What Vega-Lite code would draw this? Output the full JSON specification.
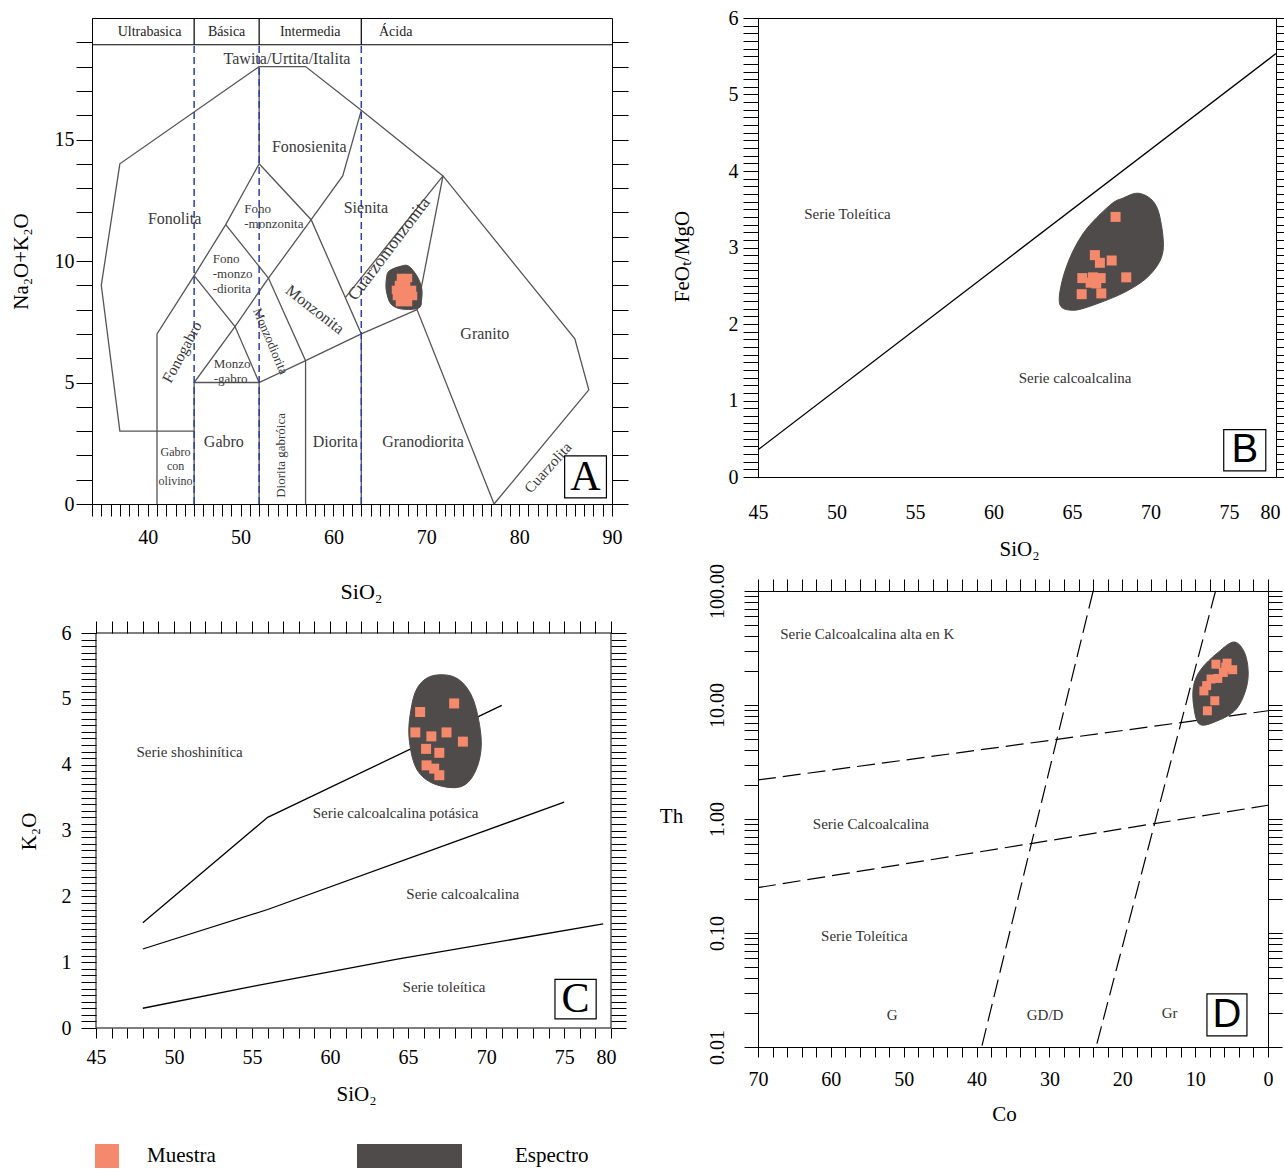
{
"$schema": "https://vega.github.io/schema/vega-lite/v6.json",
"background": "white",
"padding": {"left": 9, "top": 7, "right": 2, "bottom": 2},
"columns": 2,
"bounds": "flush",
"spacing": {"row": 87, "column": 146},
"config": {
  "font": "Liberation Serif",
  "view": {"stroke": "black", "strokeWidth": 1},
  "axis": {"grid": false, "labelFont": "Liberation Serif", "titleFont": "Liberation Serif", "labelFontSize": 20, "titleFontSize": 21, "titleFontWeight": "normal", "labelColor": "black", "titleColor": "black", "tickColor": "black", "domainColor": "black", "tickWidth": 1, "domainWidth": 1, "labelOverlap": false, "labelFlush": false, "labelBound": false, "labelLimit": 0},
  "legend": {"padding": 0},
  "text": {"font": "Liberation Serif"}
},
"datasets": {
  "tasL": [
    {"s":1,"i":0,"x":45,"y":3},{"s":1,"i":1,"x":37,"y":3},{"s":1,"i":2,"x":35,"y":9},{"s":1,"i":3,"x":37,"y":14},{"s":1,"i":4,"x":52,"y":18},{"s":1,"i":5,"x":57,"y":18},{"s":1,"i":6,"x":63,"y":16.2},{"s":1,"i":7,"x":71.8,"y":13.5},{"s":1,"i":8,"x":86,"y":6.8},{"s":1,"i":9,"x":87.5,"y":4.7},{"s":1,"i":10,"x":77.3,"y":0},
    {"s":2,"i":0,"x":41,"y":0},{"s":2,"i":1,"x":41,"y":7},{"s":2,"i":2,"x":45,"y":9.4},{"s":2,"i":3,"x":48.4,"y":11.5},{"s":2,"i":4,"x":52,"y":14},{"s":2,"i":5,"x":52,"y":18},
    {"s":3,"i":0,"x":52,"y":14},{"s":3,"i":1,"x":57.6,"y":11.7},{"s":3,"i":2,"x":63,"y":7},{"s":3,"i":3,"x":63,"y":0},
    {"s":4,"i":0,"x":45,"y":9.4},{"s":4,"i":1,"x":49.4,"y":7.3},{"s":4,"i":2,"x":52,"y":5},{"s":4,"i":3,"x":52,"y":0},
    {"s":5,"i":0,"x":45,"y":0},{"s":5,"i":1,"x":45,"y":5},{"s":5,"i":2,"x":49.4,"y":7.3},{"s":5,"i":3,"x":53,"y":9.3},{"s":5,"i":4,"x":57.6,"y":11.7},{"s":5,"i":5,"x":61,"y":13.5},{"s":5,"i":6,"x":63,"y":16.2},
    {"s":6,"i":0,"x":48.4,"y":11.5},{"s":6,"i":1,"x":53,"y":9.3},{"s":6,"i":2,"x":57,"y":5.9},{"s":6,"i":3,"x":57,"y":0},
    {"s":7,"i":0,"x":45,"y":5},{"s":7,"i":1,"x":52,"y":5},{"s":7,"i":2,"x":57,"y":5.9},{"s":7,"i":3,"x":63,"y":7},{"s":7,"i":4,"x":69,"y":8},{"s":7,"i":5,"x":77.3,"y":0},
    {"s":8,"i":0,"x":69,"y":8},{"s":8,"i":1,"x":71.8,"y":13.5},
    {"s":9,"i":0,"x":61.3,"y":8.5},{"s":9,"i":1,"x":71.8,"y":13.5}
  ],
  "tasE": [
    {"i":0,"x":66.0,"y":9.59},{"i":1,"x":67.3,"y":9.79},{"i":2,"x":68.1,"y":9.79},{"i":3,"x":69.0,"y":9.38},{"i":4,"x":69.5,"y":8.89},{"i":5,"x":69.5,"y":8.44},{"i":6,"x":69.2,"y":8.07},{"i":7,"x":67.4,"y":8.02},{"i":8,"x":66.2,"y":8.23},{"i":9,"x":65.7,"y":8.77},{"i":10,"x":65.7,"y":9.26}
  ],
  "tasP": [
    {"x":67.28,"y":9.30,"tipo":"Muestra"},{"x":68.03,"y":9.30,"tipo":"Muestra"},{"x":67.06,"y":9.01,"tipo":"Muestra"},{"x":67.82,"y":9.01,"tipo":"Muestra"},{"x":66.74,"y":8.81,"tipo":"Muestra"},{"x":67.60,"y":8.81,"tipo":"Muestra"},{"x":68.46,"y":8.81,"tipo":"Muestra"},{"x":66.84,"y":8.56,"tipo":"Muestra"},{"x":67.71,"y":8.56,"tipo":"Muestra"},{"x":68.57,"y":8.56,"tipo":"Muestra"},{"x":67.17,"y":8.31,"tipo":"Muestra"},{"x":68.03,"y":8.31,"tipo":"Muestra"}
  ],
  "feoE": [
    {"i":0,"x":64.2,"y":2.28},{"i":1,"x":65.0,"y":2.18},{"i":2,"x":66.4,"y":2.25},{"i":3,"x":68.5,"y":2.43},{"i":4,"x":70.0,"y":2.65},{"i":5,"x":70.8,"y":2.95},{"i":6,"x":70.6,"y":3.4},{"i":7,"x":70.1,"y":3.62},{"i":8,"x":69.2,"y":3.71},{"i":9,"x":68.3,"y":3.65},{"i":10,"x":67.4,"y":3.55},{"i":11,"x":65.7,"y":3.18},{"i":12,"x":64.6,"y":2.72}
  ],
  "feoP": [
    {"x":67.78,"y":3.40},{"x":66.46,"y":2.90},{"x":66.78,"y":2.80},{"x":67.53,"y":2.83},{"x":68.46,"y":2.61},{"x":65.66,"y":2.60},{"x":66.34,"y":2.61},{"x":66.83,"y":2.60},{"x":66.55,"y":2.53},{"x":65.62,"y":2.39},{"x":66.87,"y":2.40},{"x":66.19,"y":2.54}
  ],
  "kL": [
    {"s":1,"i":0,"x":48,"y":1.6},{"s":1,"i":1,"x":56,"y":3.2},{"s":1,"i":2,"x":71,"y":4.9},
    {"s":2,"i":0,"x":48,"y":1.2},{"s":2,"i":1,"x":56,"y":1.8},{"s":2,"i":2,"x":75,"y":3.43},
    {"s":3,"i":0,"x":48,"y":0.3},{"s":3,"i":1,"x":55.2,"y":0.64},{"s":3,"i":2,"x":64.4,"y":1.05},{"s":3,"i":3,"x":77.5,"y":1.58}
  ],
  "kE": [
    {"i":0,"x":66.56,"y":5.35},{"i":1,"x":68.06,"y":5.32},{"i":2,"x":69.12,"y":5.02},{"i":3,"x":69.66,"y":4.46},{"i":4,"x":69.55,"y":4.06},{"i":5,"x":68.91,"y":3.75},{"i":6,"x":67.95,"y":3.65},{"i":7,"x":66.46,"y":3.73},{"i":8,"x":65.49,"y":3.96},{"i":9,"x":65.06,"y":4.41},{"i":10,"x":65.17,"y":4.82},{"i":11,"x":65.6,"y":5.17}
  ],
  "kP": [
    {"x":67.95,"y":4.93},{"x":65.77,"y":4.80},{"x":65.46,"y":4.49},{"x":66.49,"y":4.43},{"x":67.46,"y":4.49},{"x":68.51,"y":4.35},{"x":66.15,"y":4.24},{"x":67.0,"y":4.18},{"x":66.18,"y":3.99},{"x":66.67,"y":3.94},{"x":67.0,"y":3.84}
  ],
  "thL": [
    {"s":1,"i":0,"co":70,"th":2.2},{"s":1,"i":1,"co":0,"th":8.9},
    {"s":2,"i":0,"co":70,"th":0.25},{"s":2,"i":1,"co":0,"th":1.32},
    {"s":3,"i":0,"co":24,"th":100},{"s":3,"i":1,"co":39.3,"th":0.01},
    {"s":4,"i":0,"co":7.2,"th":100},{"s":4,"i":1,"co":23.6,"th":0.01}
  ],
  "thE": [
    {"i":0,"co":4.59,"th":35.7},{"i":1,"co":3.06,"th":27.0},{"i":2,"co":2.81,"th":15.8},{"i":3,"co":4.34,"th":9.23},{"i":4,"co":7.40,"th":7.07},{"i":5,"co":9.45,"th":6.83},{"i":6,"co":10.21,"th":9.87},{"i":7,"co":10.21,"th":14.8},{"i":8,"co":9.19,"th":20.6},{"i":9,"co":6.89,"th":28.8}
  ],
  "thP": [
    {"co":7.15,"th":22.8},{"co":5.62,"th":23.3},{"co":4.85,"th":20.4},{"co":6.13,"th":19.3},{"co":6.89,"th":17.1},{"co":7.81,"th":16.9},{"co":8.42,"th":14.8},{"co":8.8,"th":13.3},{"co":7.30,"th":10.9},{"co":8.32,"th":8.9},{"co":5.8,"th":21.5}
  ]
},
"concat": [
{
  "width": 520, "height": 486,
  "resolve": {"axis": {"x": "independent", "y": "independent"}},
  "layer": [
    {
      "data": {"name": "tasL"},
      "mark": {"type": "line", "color": "#555555", "strokeWidth": 1.3},
      "encoding": {
        "x": {"field": "x", "type": "quantitative", "scale": {"domain": [34, 90], "nice": false, "zero": false},
          "axis": {"orient": "bottom", "values": [34,35,36,37,38,39,40,41,42,43,44,45,46,47,48,49,50,51,52,53,54,55,56,57,58,59,60,61,62,63,64,65,66,67,68,69,70,71,72,73,74,75,76,77,78,79,80,81,82,83,84,85,86,87,88,89,90],
            "title": "SiO₂", "titleFontSize": 22, "titleX": 269, "titleY": 87, "titleBaseline": "middle", "titleAlign": "center",
            "tickSize": 12, "labelPadding": 11, "labelExpr": "datum.value % 10 === 0 ? '' + datum.value : ''",
            "encode": {"ticks": {"update": {"y2": {"signal": "datum.value % 10 === 0 ? 12 : -6"}}}}}},
        "y": {"field": "y", "type": "quantitative", "scale": {"domain": [0, 20], "nice": false, "zero": false},
          "axis": {"orient": "left", "values": [0,1,2,3,4,5,6,7,8,9,10,11,12,13,14,15,16,17,18,19],
            "title": "Na₂O+K₂O", "titleX": -71, "titleY": 243, "titleAngle": 270, "titleBaseline": "middle", "titleAlign": "center",
            "tickSize": 16, "labelPadding": 2, "labelExpr": "datum.value % 5 === 0 ? '' + datum.value : ''",
            "encode": {"ticks": {"update": {"x2": {"signal": "datum.value % 5 === 0 ? -16 : -8"}}}}}},
        "detail": {"field": "s", "type": "nominal"},
        "order": {"field": "i", "type": "quantitative"}
      }
    },
    {
      "data": {"values": [{"x":34,"x2":90,"y":18.9,"y2":18.9},{"x":45,"x2":45,"y":18.9,"y2":20},{"x":52,"x2":52,"y":18.9,"y2":20},{"x":63,"x2":63,"y":18.9,"y2":20}]},
      "mark": {"type": "rule", "color": "black", "strokeWidth": 1.2},
      "encoding": {
        "x": {"field": "x", "type": "quantitative", "axis": null}, "x2": {"field": "x2"},
        "y": {"field": "y", "type": "quantitative", "axis": null}, "y2": {"field": "y2"}
      }
    },
    {
      "data": {"values": [{"x":45,"y":0,"y2":18.9},{"x":52,"y":0,"y2":18.9},{"x":63,"y":0,"y2":18.9}]},
      "mark": {"type": "rule", "color": "#2B3FA8", "strokeWidth": 1.5, "strokeDash": [7, 4]},
      "encoding": {
        "x": {"field": "x", "type": "quantitative", "axis": null},
        "y": {"field": "y", "type": "quantitative", "axis": null}, "y2": {"field": "y2"}
      }
    },
    {
      "data": {"name": "tasE"},
      "mark": {"type": "line", "interpolate": "cardinal-closed", "filled": true, "fill": "#4F4B4B", "stroke": "#4F4B4B", "strokeWidth": 1},
      "encoding": {
        "x": {"field": "x", "type": "quantitative", "axis": null},
        "y": {"field": "y", "type": "quantitative",
          "axis": {"orient": "right", "values": [0,1,2,3,4,5,6,7,8,9,10,11,12,13,14,15,16,17,18,19], "title": null, "labels": false, "domain": false, "tickSize": 16,
            "encode": {"ticks": {"update": {"x2": {"signal": "datum.value % 5 === 0 ? -16 : -9"}}}}}},
        "order": {"field": "i", "type": "quantitative"}
      }
    },
    {
      "data": {"name": "tasP"},
      "mark": {"type": "square", "size": 72, "opacity": 1},
      "encoding": {
        "x": {"field": "x", "type": "quantitative", "axis": null},
        "y": {"field": "y", "type": "quantitative", "axis": null},
        "color": {"field": "tipo", "type": "nominal",
          "scale": {"domain": ["Muestra", "Espectro"], "range": ["#F4896B", "#4F4B4B"]},
          "legend": {"orient": "none", "legendX": 3, "legendY": 1126, "direction": "horizontal", "title": null,
            "symbolType": "square", "symbolSize": 576, "symbolStrokeWidth": 0, "symbolOpacity": 1,
            "labelFont": "Liberation Serif", "labelFontSize": 21, "labelColor": "black", "labelOffset": 28, "columnPadding": 141, "labelLimit": 0,
            "encode": {
              "symbols": {"update": {"shape": {"signal": "datum.value === 'Espectro' ? 'M-1,-1H7.75V1H-1Z' : 'square'"}}},
              "labels": {"update": {"dx": {"signal": "datum.value === 'Espectro' ? 106 : 0"}}}
            }}}
      }
    },
    {
      "data": {"values": [{"t":"Ultrabasica","x":40.2,"y":19.44},{"t":"Básica","x":48.5,"y":19.44},{"t":"Intermedia","x":57.5,"y":19.44},{"t":"Ácida","x":66.7,"y":19.44}]},
      "mark": {"type": "text", "font": "Liberation Serif", "fontSize": 14, "color": "#222222", "baseline": "middle", "align": "center"},
      "encoding": {
        "x": {"field": "x", "type": "quantitative", "axis": null},
        "y": {"field": "y", "type": "quantitative", "axis": null},
        "text": {"field": "t"}
      }
    },
    {
      "data": {"values": [{"t":"Tawita/Urtita/Italita","x":55.0,"y":18.33},{"t":"Fonolita","x":42.9,"y":11.73},{"t":"Sienita","x":63.5,"y":12.18},{"t":"Fonosienita","x":57.4,"y":14.69},{"t":"Granito","x":76.3,"y":7.0},{"t":"Gabro","x":48.2,"y":2.55},{"t":"Diorita","x":60.2,"y":2.55},{"t":"Granodiorita","x":69.65,"y":2.55}]},
      "mark": {"type": "text", "font": "Liberation Serif", "fontSize": 16, "color": "#3a3a3a", "baseline": "middle", "align": "center"},
      "encoding": {
        "x": {"field": "x", "type": "quantitative", "axis": null},
        "y": {"field": "y", "type": "quantitative", "axis": null},
        "text": {"field": "t"}
      }
    },
    {
      "data": {"values": [{"t":"Fono\n-monzonita","x":50.4,"y":12.39},{"t":"Fono\n-monzo\n-diorita","x":47.0,"y":10.33},{"t":"Monzo\n-gabro","x":47.1,"y":6.0}]},
      "mark": {"type": "text", "font": "Liberation Serif", "fontSize": 13, "color": "#3a3a3a", "baseline": "top", "align": "left", "lineBreak": "\n", "lineHeight": 15},
      "encoding": {
        "x": {"field": "x", "type": "quantitative", "axis": null},
        "y": {"field": "y", "type": "quantitative", "axis": null},
        "text": {"field": "t"}
      }
    },
    {
      "data": {"values": [{"t":"Gabro\ncon\nolivino","x":43.0,"y":2.35}]},
      "mark": {"type": "text", "font": "Liberation Serif", "fontSize": 12, "color": "#3a3a3a", "baseline": "top", "align": "center", "lineBreak": "\n", "lineHeight": 14.5},
      "encoding": {
        "x": {"field": "x", "type": "quantitative", "axis": null},
        "y": {"field": "y", "type": "quantitative", "axis": null},
        "text": {"field": "t"}
      }
    },
    {
      "data": {"values": [{"t":"Monzonita","x":58.0,"y":8.0}]},
      "mark": {"type": "text", "font": "Liberation Serif", "fontSize": 16, "color": "#3a3a3a", "baseline": "middle", "align": "center", "angle": 38},
      "encoding": {"x": {"field": "x", "type": "quantitative", "axis": null}, "y": {"field": "y", "type": "quantitative", "axis": null}, "text": {"field": "t"}}
    },
    {
      "data": {"values": [{"t":"Cuarzomonzonita","x":66.0,"y":10.5}]},
      "mark": {"type": "text", "font": "Liberation Serif", "fontSize": 17.5, "color": "#3a3a3a", "baseline": "middle", "align": "center", "angle": 307},
      "encoding": {"x": {"field": "x", "type": "quantitative", "axis": null}, "y": {"field": "y", "type": "quantitative", "axis": null}, "text": {"field": "t"}}
    },
    {
      "data": {"values": [{"t":"Fonogabro","x":43.7,"y":6.25}]},
      "mark": {"type": "text", "font": "Liberation Serif", "fontSize": 15.5, "color": "#3a3a3a", "baseline": "middle", "align": "center", "angle": 298},
      "encoding": {"x": {"field": "x", "type": "quantitative", "axis": null}, "y": {"field": "y", "type": "quantitative", "axis": null}, "text": {"field": "t"}}
    },
    {
      "data": {"values": [{"t":"Monzodiorita","x":53.2,"y":6.7}]},
      "mark": {"type": "text", "font": "Liberation Serif", "fontSize": 13, "color": "#3a3a3a", "baseline": "middle", "align": "center", "angle": 67},
      "encoding": {"x": {"field": "x", "type": "quantitative", "axis": null}, "y": {"field": "y", "type": "quantitative", "axis": null}, "text": {"field": "t"}}
    },
    {
      "data": {"values": [{"t":"Diorita gabróica","x":54.3,"y":2.0}]},
      "mark": {"type": "text", "font": "Liberation Serif", "fontSize": 13, "color": "#3a3a3a", "baseline": "middle", "align": "center", "angle": 270},
      "encoding": {"x": {"field": "x", "type": "quantitative", "axis": null}, "y": {"field": "y", "type": "quantitative", "axis": null}, "text": {"field": "t"}}
    },
    {
      "data": {"values": [{"t":"Cuarzolita","x":83.1,"y":1.5}]},
      "mark": {"type": "text", "font": "Liberation Serif", "fontSize": 15, "color": "#3a3a3a", "baseline": "middle", "align": "center", "angle": 312},
      "encoding": {"x": {"field": "x", "type": "quantitative", "axis": null}, "y": {"field": "y", "type": "quantitative", "axis": null}, "text": {"field": "t"}}
    },
    {
      "data": {"values": [{"x":84.9,"x2":89.4,"y":0.25,"y2":1.98}]},
      "mark": {"type": "rect", "fill": "white", "stroke": "black", "strokeWidth": 1.2},
      "encoding": {"x": {"field": "x", "type": "quantitative", "axis": null}, "x2": {"field": "x2"}, "y": {"field": "y", "type": "quantitative", "axis": null}, "y2": {"field": "y2"}}
    },
    {
      "data": {"values": [{"t":"A","x":87.15,"y":1.1}]},
      "mark": {"type": "text", "font": "Liberation Serif", "fontSize": 42, "color": "black", "baseline": "middle", "align": "center"},
      "encoding": {"x": {"field": "x", "type": "quantitative", "axis": null}, "y": {"field": "y", "type": "quantitative", "axis": null}, "text": {"field": "t"}}
    }
  ]
},
{
  "width": 518, "height": 459,
  "resolve": {"axis": {"x": "independent", "y": "independent"}},
  "layer": [
    {
      "data": {"values": [{"x":45,"y":0.355},{"x":78,"y":5.536}]},
      "mark": {"type": "line", "color": "black", "strokeWidth": 1.3},
      "encoding": {
        "x": {"field": "x", "type": "quantitative", "scale": {"domain": [45, 78], "nice": false, "zero": false},
          "axis": {"orient": "bottom", "values": [45,50,55,60,65,70,75,78], "title": "SiO₂", "titleX": 261, "titleY": 72, "titleBaseline": "middle", "titleAlign": "center",
            "ticks": false, "tickSize": 0, "labelPadding": 25, "labelExpr": "datum.value === 78 ? '80' : '' + datum.value",
            "labelOffset": {"condition": {"test": "datum.value === 78", "value": -6}, "value": 0}}},
        "y": {"field": "y", "type": "quantitative", "scale": {"domain": [0, 6], "nice": false, "zero": false},
          "axis": {"orient": "left", "values": [0,0.1,0.2,0.3,0.4,0.5,0.6,0.7,0.8,0.9,1,1.1,1.2,1.3,1.4,1.5,1.6,1.7,1.8,1.9,2,2.1,2.2,2.3,2.4,2.5,2.6,2.7,2.8,2.9,3,3.1,3.2,3.3,3.4,3.5,3.6,3.7,3.8,3.9,4,4.1,4.2,4.3,4.4,4.5,4.6,4.7,4.8,4.9,5,5.1,5.2,5.3,5.4,5.5,5.6,5.7,5.8,5.9,6],
            "title": "FeOₜ/MgO", "titleX": -76, "titleY": 238, "titleAngle": 270, "titleBaseline": "middle", "titleAlign": "center",
            "tickSize": 15, "labelPadding": 5, "labelExpr": "abs(datum.value - round(datum.value)) < 0.001 ? '' + round(datum.value) : ''",
            "encode": {"ticks": {"update": {"x2": {"signal": "abs(datum.value - round(datum.value)) < 0.001 ? -15 : -6"}}}}}},
        "order": {"field": "x", "type": "quantitative"}
      }
    },
    {
      "data": {"name": "feoE"},
      "mark": {"type": "line", "interpolate": "cardinal-closed", "filled": true, "fill": "#4F4B4B", "stroke": "#4F4B4B", "strokeWidth": 1},
      "encoding": {
        "x": {"field": "x", "type": "quantitative", "axis": null},
        "y": {"field": "y", "type": "quantitative",
          "axis": {"orient": "right", "values": [0,0.1,0.2,0.3,0.4,0.5,0.6,0.7,0.8,0.9,1,1.1,1.2,1.3,1.4,1.5,1.6,1.7,1.8,1.9,2,2.1,2.2,2.3,2.4,2.5,2.6,2.7,2.8,2.9,3,3.1,3.2,3.3,3.4,3.5,3.6,3.7,3.8,3.9,4,4.1,4.2,4.3,4.4,4.5,4.6,4.7,4.8,4.9,5,5.1,5.2,5.3,5.4,5.5,5.6,5.7,5.8,5.9,6],
            "title": null, "labels": false, "domain": false, "tickSize": 16,
            "encode": {"ticks": {"update": {"x2": {"signal": "abs(datum.value - round(datum.value)) < 0.001 ? -16 : -7"}}}}}},
        "order": {"field": "i", "type": "quantitative"}
      }
    },
    {
      "data": {"name": "feoP"},
      "mark": {"type": "square", "size": 100, "opacity": 1, "color": "#F4896B"},
      "encoding": {"x": {"field": "x", "type": "quantitative", "axis": null}, "y": {"field": "y", "type": "quantitative", "axis": null}}
    },
    {
      "data": {"values": [{"t":"Serie Toleítica","x":50.7,"y":3.44},{"t":"Serie calcoalcalina","x":65.2,"y":1.29}]},
      "mark": {"type": "text", "font": "Liberation Serif", "fontSize": 15, "color": "#333333", "baseline": "middle", "align": "center"},
      "encoding": {"x": {"field": "x", "type": "quantitative", "axis": null}, "y": {"field": "y", "type": "quantitative", "axis": null}, "text": {"field": "t"}}
    },
    {
      "data": {"values": [{"x":74.67,"x2":77.35,"y":0.08,"y2":0.62}]},
      "mark": {"type": "rect", "fill": "white", "stroke": "black", "strokeWidth": 1.2},
      "encoding": {"x": {"field": "x", "type": "quantitative", "axis": null}, "x2": {"field": "x2"}, "y": {"field": "y", "type": "quantitative", "axis": null}, "y2": {"field": "y2"}}
    },
    {
      "data": {"values": [{"t":"B","x":76.01,"y":0.35}]},
      "mark": {"type": "text", "font": "Liberation Sans", "fontSize": 40, "color": "black", "baseline": "middle", "align": "center"},
      "encoding": {"x": {"field": "x", "type": "quantitative", "axis": null}, "y": {"field": "y", "type": "quantitative", "axis": null}, "text": {"field": "t"}}
    }
  ]
},
{
  "width": 519, "height": 437,
  "view": {"stroke": null},
  "resolve": {"axis": {"x": "independent", "y": "independent"}},
  "layer": [
    {
      "data": {"name": "kL"},
      "mark": {"type": "line", "color": "black", "strokeWidth": 1.3},
      "encoding": {
        "x": {"field": "x", "type": "quantitative", "scale": {"domain": [44.744, 78], "nice": false, "zero": false},
          "axis": {"orient": "bottom", "values": [45,46,47,48,49,50,51,52,53,54,55,56,57,58,59,60,61,62,63,64,65,66,67,68,69,70,71,72,73,74,75,76,77,78], "domain": false,
            "title": "SiO₂", "titleX": 264, "titleY": 66, "titleBaseline": "middle", "titleAlign": "center",
            "tickSize": 10, "labelPadding": 9, "labelExpr": "datum.value === 78 ? '80' : (datum.value % 5 === 0 ? '' + datum.value : '')",
            "labelOffset": {"condition": {"test": "datum.value === 78", "value": -5}, "value": 0},
            "encode": {"ticks": {"update": {"y2": {"signal": "datum.value % 5 === 0 ? 10 : -6"}}}}}},
        "y": {"field": "y", "type": "quantitative", "scale": {"domain": [0, 6.638], "nice": false, "zero": false},
          "axis": {"orient": "left", "offset": -4, "values": [0,0.1,0.2,0.3,0.4,0.5,0.6,0.7,0.8,0.9,1,1.1,1.2,1.3,1.4,1.5,1.6,1.7,1.8,1.9,2,2.1,2.2,2.3,2.4,2.5,2.6,2.7,2.8,2.9,3,3.1,3.2,3.3,3.4,3.5,3.6,3.7,3.8,3.9,4,4.1,4.2,4.3,4.4,4.5,4.6,4.7,4.8,4.9,5,5.1,5.2,5.3,5.4,5.5,5.6,5.7,5.8,5.9,6], "domain": false,
            "title": "K₂O", "titleX": -67, "titleY": 240, "titleAngle": 270, "titleBaseline": "middle", "titleAlign": "center",
            "tickSize": 15, "labelPadding": 10, "labelExpr": "abs(datum.value - round(datum.value)) < 0.001 ? '' + round(datum.value) : ''",
            "encode": {"ticks": {"update": {"x2": {"signal": "abs(datum.value - round(datum.value)) < 0.001 ? -15 : -6"}}}}}},
        "detail": {"field": "s", "type": "nominal"},
        "order": {"field": "i", "type": "quantitative"}
      }
    },
    {
      "data": {"name": "kE"},
      "mark": {"type": "line", "interpolate": "cardinal-closed", "filled": true, "fill": "#4F4B4B", "stroke": "#4F4B4B", "strokeWidth": 1},
      "encoding": {
        "x": {"field": "x", "type": "quantitative",
          "axis": {"orient": "top", "offset": -42, "values": [45,46,47,48,49,50,51,52,53,54,55,56,57,58,59,60,61,62,63,64,65,66,67,68,69,70,71,72,73,74,75,76,77,78], "title": null, "labels": false, "domain": false, "tickSize": 12,
            "encode": {"ticks": {"update": {"y2": {"signal": "datum.value % 5 === 0 ? 12 : 6"}}}}}},
        "y": {"field": "y", "type": "quantitative",
          "axis": {"orient": "right", "values": [0,0.1,0.2,0.3,0.4,0.5,0.6,0.7,0.8,0.9,1,1.1,1.2,1.3,1.4,1.5,1.6,1.7,1.8,1.9,2,2.1,2.2,2.3,2.4,2.5,2.6,2.7,2.8,2.9,3,3.1,3.2,3.3,3.4,3.5,3.6,3.7,3.8,3.9,4,4.1,4.2,4.3,4.4,4.5,4.6,4.7,4.8,4.9,5,5.1,5.2,5.3,5.4,5.5,5.6,5.7,5.8,5.9,6],
            "title": null, "labels": false, "domain": false, "tickSize": 15,
            "encode": {"ticks": {"update": {"x2": {"signal": "abs(datum.value - round(datum.value)) < 0.001 ? -15 : -6"}}}}}},
        "order": {"field": "i", "type": "quantitative"}
      }
    },
    {
      "data": {"values": [{"x":45,"x2":78,"y":0,"y2":6}]},
      "mark": {"type": "rect", "fill": "transparent", "stroke": "black", "strokeWidth": 1},
      "encoding": {"x": {"field": "x", "type": "quantitative", "axis": null}, "x2": {"field": "x2"}, "y": {"field": "y", "type": "quantitative", "axis": null}, "y2": {"field": "y2"}}
    },
    {
      "data": {"name": "kP"},
      "mark": {"type": "square", "size": 100, "opacity": 1, "color": "#F4896B"},
      "encoding": {"x": {"field": "x", "type": "quantitative", "axis": null}, "y": {"field": "y", "type": "quantitative", "axis": null}}
    },
    {
      "data": {"values": [{"t":"Serie shoshinítica","x":51.0,"y":4.19},{"t":"Serie calcoalcalina potásica","x":64.2,"y":3.26},{"t":"Serie calcoalcalina","x":68.5,"y":2.03},{"t":"Serie toleítica","x":67.3,"y":0.63}]},
      "mark": {"type": "text", "font": "Liberation Serif", "fontSize": 15, "color": "#333333", "baseline": "middle", "align": "center"},
      "encoding": {"x": {"field": "x", "type": "quantitative", "axis": null}, "y": {"field": "y", "type": "quantitative", "axis": null}, "text": {"field": "t"}}
    },
    {
      "data": {"values": [{"x":74.41,"x2":77.05,"y":0.14,"y2":0.74}]},
      "mark": {"type": "rect", "fill": "white", "stroke": "black", "strokeWidth": 1.2},
      "encoding": {"x": {"field": "x", "type": "quantitative", "axis": null}, "x2": {"field": "x2"}, "y": {"field": "y", "type": "quantitative", "axis": null}, "y2": {"field": "y2"}}
    },
    {
      "data": {"values": [{"t":"C","x":75.73,"y":0.44}]},
      "mark": {"type": "text", "font": "Liberation Serif", "fontSize": 42, "color": "black", "baseline": "middle", "align": "center"},
      "encoding": {"x": {"field": "x", "type": "quantitative", "axis": null}, "y": {"field": "y", "type": "quantitative", "axis": null}, "text": {"field": "t"}}
    }
  ]
},
{
  "width": 510, "height": 456,
  "resolve": {"axis": {"x": "independent", "y": "independent"}},
  "layer": [
    {
      "data": {"name": "thL"},
      "mark": {"type": "line", "color": "black", "strokeWidth": 1.2, "strokeDash": [18, 7]},
      "encoding": {
        "x": {"field": "co", "type": "quantitative", "scale": {"domain": [0, 70], "reverse": true, "nice": false, "zero": false},
          "axis": {"orient": "bottom", "values": [0,2,4,6,8,10,12,14,16,18,20,22,24,26,28,30,32,34,36,38,40,42,44,46,48,50,52,54,56,58,60,62,64,66,68,70],
            "title": "Co", "titleX": 246, "titleY": 67, "titleBaseline": "middle", "titleAlign": "center",
            "tickSize": 10, "labelPadding": 12, "labelExpr": "datum.value % 10 === 0 ? '' + datum.value : ''",
            "encode": {"ticks": {"update": {"y2": {"signal": "datum.value % 10 === 0 ? 10 : -6"}}}}}},
        "y": {"field": "th", "type": "quantitative", "scale": {"type": "log", "domain": [0.01, 100], "nice": false},
          "axis": {"orient": "left", "values": [0.01,0.02,0.03,0.04,0.05,0.06,0.07,0.08,0.09,0.1,0.2,0.3,0.4,0.5,0.6,0.7,0.8,0.9,1,2,3,4,5,6,7,8,9,10,20,30,40,50,60,70,80,90,100],
            "title": "Th", "titleX": -87, "titleY": 225, "titleAngle": 0, "titleBaseline": "middle", "titleAlign": "center",
            "tickSize": 14, "labelPadding": 27, "labelAngle": 270, "labelAlign": "center", "labelBaseline": "middle",
            "labelExpr": "abs(log(datum.value)/LN10 - round(log(datum.value)/LN10)) < 0.001 ? format(datum.value, '.2f') : ''",
            "encode": {"ticks": {"update": {"x2": {"signal": "abs(log(datum.value)/LN10 - round(log(datum.value)/LN10)) < 0.001 ? -14 : -7"}}}}}},
        "detail": {"field": "s", "type": "nominal"},
        "order": {"field": "i", "type": "quantitative"}
      }
    },
    {
      "data": {"name": "thE"},
      "mark": {"type": "line", "interpolate": "cardinal-closed", "filled": true, "fill": "#4F4B4B", "stroke": "#4F4B4B", "strokeWidth": 1},
      "encoding": {
        "x": {"field": "co", "type": "quantitative",
          "axis": {"orient": "top", "values": [0,2,4,6,8,10,12,14,16,18,20,22,24,26,28,30,32,34,36,38,40,42,44,46,48,50,52,54,56,58,60,62,64,66,68,70], "title": null, "labels": false, "domain": false, "tickSize": 12,
            "encode": {"ticks": {"update": {"y2": {"signal": "datum.value % 10 === 0 ? 12 : 6"}}}}}},
        "y": {"field": "th", "type": "quantitative",
          "axis": {"orient": "right", "values": [0.01,0.02,0.03,0.04,0.05,0.06,0.07,0.08,0.09,0.1,0.2,0.3,0.4,0.5,0.6,0.7,0.8,0.9,1,2,3,4,5,6,7,8,9,10,20,30,40,50,60,70,80,90,100],
            "title": null, "labels": false, "domain": false, "tickSize": 14,
            "encode": {"ticks": {"update": {"x2": {"signal": "abs(log(datum.value)/LN10 - round(log(datum.value)/LN10)) < 0.001 ? -14 : -7"}}}}}},
        "order": {"field": "i", "type": "quantitative"}
      }
    },
    {
      "data": {"name": "thP"},
      "mark": {"type": "square", "size": 81, "opacity": 1, "color": "#F4896B"},
      "encoding": {"x": {"field": "co", "type": "quantitative", "axis": null}, "y": {"field": "th", "type": "quantitative", "axis": null}}
    },
    {
      "data": {"values": [{"t":"Serie Calcoalcalina alta en K","co":55.0,"th":42},{"t":"Serie Calcoalcalina","co":54.5,"th":0.9},{"t":"Serie Toleítica","co":55.4,"th":0.094},{"t":"G","co":51.6,"th":0.019},{"t":"GD/D","co":30.6,"th":0.019},{"t":"Gr","co":13.5,"th":0.02}]},
      "mark": {"type": "text", "font": "Liberation Serif", "fontSize": 15, "color": "#333333", "baseline": "middle", "align": "center"},
      "encoding": {"x": {"field": "co", "type": "quantitative", "axis": null}, "y": {"field": "th", "type": "quantitative", "axis": null}, "text": {"field": "t"}}
    },
    {
      "data": {"values": [{"co":8.38,"co2":2.89,"th":0.0125,"th2":0.0292}]},
      "mark": {"type": "rect", "fill": "white", "stroke": "black", "strokeWidth": 1.2},
      "encoding": {"x": {"field": "co", "type": "quantitative", "axis": null}, "x2": {"field": "co2"}, "y": {"field": "th", "type": "quantitative", "axis": null}, "y2": {"field": "th2"}}
    },
    {
      "data": {"values": [{"t":"D","co":5.63,"th":0.0191}]},
      "mark": {"type": "text", "font": "Liberation Sans", "fontSize": 40, "color": "black", "baseline": "middle", "align": "center"},
      "encoding": {"x": {"field": "co", "type": "quantitative", "axis": null}, "y": {"field": "th", "type": "quantitative", "axis": null}, "text": {"field": "t"}}
    }
  ]
}
]
}
